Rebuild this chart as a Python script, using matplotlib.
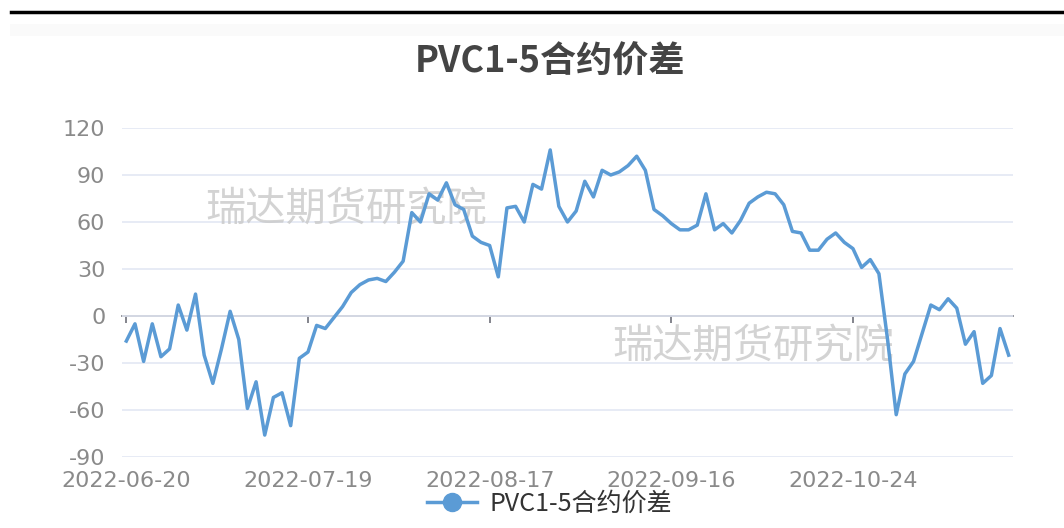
import matplotlib
matplotlib.use("Agg")
import matplotlib.pyplot as plt
from matplotlib.lines import Line2D
from matplotlib.patches import Rectangle

plt.rcParams['font.family'] = ['Noto Sans CJK SC', 'DejaVu Sans']

title = "PVC1-5合约价差"
series_name = "PVC1-5合约价差"
watermark = "瑞达期货研究院"

tick_positions = [0, 21, 42, 63, 84]
tick_labels = ["2022-06-20", "2022-07-19", "2022-08-17", "2022-09-16", "2022-10-24"]

spread = [-16, -5, -29, -5, -26, -21, 7, -9, 14, -25,
          -43, -21, 3, -15, -59, -42, -76, -52, -49, -70,
          -27, -23, -6, -8, -1, 6, 15, 20, 23, 24,
          22, 28, 35, 66, 60, 78, 74, 85, 71, 68,
          51, 47, 45, 25, 69, 70, 60, 84, 81, 106,
          70, 60, 67, 86, 76, 93, 90, 92, 96, 102,
          93, 68, 64, 59, 55, 55, 58, 78, 55, 59,
          53, 61, 72, 76, 79, 78, 71, 54, 53, 42,
          42, 49, 53, 47, 43, 31, 36, 27, -15, -63,
          -37, -29, -11, 7, 4, 11, 5, -18, -10, -43,
          -38, -8, -25]

y_ticks = [-90, -60, -30, 0, 30, 60, 90, 120]

W, H = 1064, 528
fig = plt.figure(figsize=(W / 100, H / 100), dpi=100)
ax = fig.add_axes([122 / W, (H - 457) / H, (1013 - 122) / W, (457 - 128) / H])

x = list(range(len(spread)))
line_color = "#5b9bd5"
ax.plot(x, spread, color=line_color, lw=2.5, solid_joinstyle="round", zorder=3)

ax.set_xlim(-0.5, len(spread) - 0.5)
ax.set_ylim(-90, 120)
ax.set_yticks(y_ticks)
ax.set_yticklabels([str(v) for v in y_ticks], family="DejaVu Sans")
ax.grid(axis="y", color="#e3e8f3", lw=1.2)
ax.set_axisbelow(True)
for s in ax.spines.values():
    s.set_visible(False)
ax.tick_params(axis="y", length=0, pad=12, labelsize=16, labelcolor="#8a8a8a")
ax.set_xticks(tick_positions)
ax.set_xticklabels(tick_labels, family="DejaVu Sans")
ax.tick_params(axis="x", length=0, pad=10, labelsize=16, labelcolor="#8a8a8a")

# axis line on zero with ticks
zero_frac = (0 - (-90)) / (120 - (-90))
sec = ax.secondary_xaxis(zero_frac)
sec.set_xticks(tick_positions)
sec.set_xticklabels([])
sec.tick_params(axis="x", direction="out", length=5, width=1.2, color="#6e7079")
sec.spines["bottom"].set_color("#6e7079")
sec.spines["bottom"].set_linewidth(1.2)

# watermarks
ax.text(0.093, 0.75, watermark, transform=ax.transAxes, fontsize=29,
        color="#c8c8c8", alpha=0.8, va="center", ha="left", zorder=1)
ax.text(0.55, 0.334, watermark, transform=ax.transAxes, fontsize=29,
        color="#c8c8c8", alpha=0.8, va="center", ha="left", zorder=1)

fig.text(550 / W, 1 - 62 / H, title, ha="center", va="center",
         fontsize=26, fontweight="bold", color="#444444")

# top border
fig.add_artist(Line2D([11 / W, 1], [1 - 12 / H, 1 - 12 / H], color="black", lw=2.5))
fig.add_artist(Rectangle((10 / W, 1 - 36 / H), 1 - 10 / W, 12 / H,
                         facecolor="#fafafa", edgecolor="none"))

handle = Line2D([], [], color=line_color, lw=2.5, marker="o", markersize=13,
                markerfacecolor=line_color, markeredgecolor=line_color)
fig.legend([handle], [series_name], loc="center", bbox_to_anchor=(550 / W, 1 - 504 / H),
           frameon=False, fontsize=18, handlelength=2.0, handletextpad=0.5,
           labelcolor="#333333")

fig.savefig("out.png", dpi=100, facecolor="white")
